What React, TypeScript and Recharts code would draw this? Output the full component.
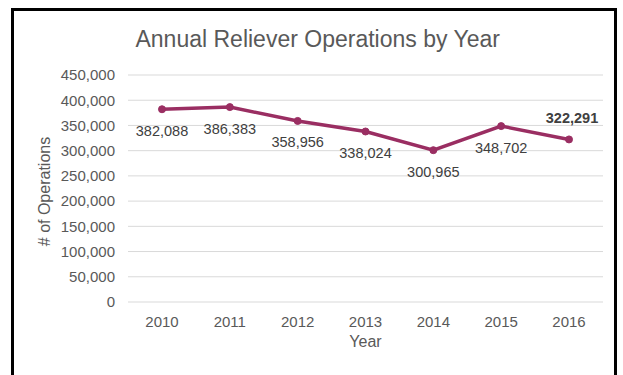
import { LineChart, Line, XAxis, YAxis, CartesianGrid, LabelList } from "recharts";

const years = ["2010", "2011", "2012", "2013", "2014", "2015", "2016"];
const operations = [382088, 386383, 358956, 338024, 300965, 348702, 322291];
const yTicks = [0, 50000, 100000, 150000, 200000, 250000, 300000, 350000, 400000, 450000];

const data = years.map((year, i) => ({ year, ops: operations[i] }));

const FONT = "'Liberation Sans', Arial, sans-serif";
const LINE = "#9A2E62";

const fmt = (v: number) => Number(v).toLocaleString("en-US");

// last point is labelled above in bold, the rest sit below their marker
const renderLabel = (props: any) => {
  const { x, y, value, index } = props;
  if (index === data.length - 1) {
    return (
      <text x={x + 3} y={y - 16} textAnchor="middle" fontSize={14.5} fontWeight="bold" fill="#404040" fontFamily={FONT}>
        {fmt(value)}
      </text>
    );
  }
  return (
    <text x={x} y={y + 26.5} textAnchor="middle" fontSize={14.5} fill="#404040" fontFamily={FONT}>
      {fmt(value)}
    </text>
  );
};

export default function App() {
  return (
    <div style={{ position: "absolute", left: 0, top: 0, width: 623, height: 375, background: "#fff", overflow: "hidden" }}>
      <div
        style={{
          position: "absolute",
          left: 11,
          top: 8,
          width: 606,
          height: 400,
          border: "3px solid #000",
          boxSizing: "border-box",
        }}
      />
      <div style={{ position: "absolute", left: 0, top: 0 }}>
        <LineChart width={623} height={375} data={data} margin={{ top: 75, right: 20, bottom: 43, left: 68 }}>
          <CartesianGrid vertical={false} stroke="#d9d9d9" />
          <XAxis
            dataKey="year"
            axisLine={false}
            tickLine={false}
            tickMargin={8}
            height={30}
            padding={{ left: 34, right: 34 }}
            tick={{ fontSize: 15, fill: "#595959", fontFamily: FONT }}
          />
          <YAxis
            domain={[0, 450000]}
            ticks={yTicks}
            width={60}
            axisLine={false}
            tickLine={false}
            tickMargin={7}
            tickFormatter={fmt}
            tick={{ fontSize: 15, fill: "#595959", fontFamily: FONT }}
          />
          <Line
            dataKey="ops"
            stroke={LINE}
            strokeWidth={3.5}
            dot={{ r: 3.5, fill: LINE, stroke: LINE, strokeWidth: 1 }}
            isAnimationActive={false}
          >
            <LabelList dataKey="ops" content={renderLabel} />
          </Line>
        </LineChart>
      </div>
      <svg width={623} height={375} style={{ position: "absolute", left: 0, top: 0, pointerEvents: "none" }}>
        <text x={317.7} y={47} textAnchor="middle" fontSize={23} fill="#595959" fontFamily={FONT}>
          Annual Reliever Operations by Year
        </text>
        <text transform="translate(49.5,191.5) rotate(-90)" textAnchor="middle" fontSize={16} fill="#595959" fontFamily={FONT}>
          # of Operations
        </text>
        <text x={365.5} y={347} textAnchor="middle" fontSize={16} fill="#595959" fontFamily={FONT}>
          Year
        </text>
      </svg>
    </div>
  );
}
